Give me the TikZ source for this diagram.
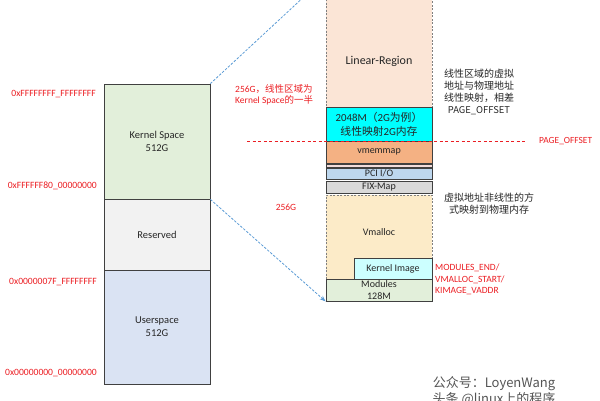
\documentclass[tikz,border=0pt]{standalone}
\usepackage{fontspec}
\setmainfont{Carlito}
\newfontfamily\cjk{Noto Sans CJK SC}
\usetikzlibrary{arrows.meta}
\definecolor{ksgreen}{HTML}{E2EFDA}
\definecolor{resgray}{HTML}{F2F2F2}
\definecolor{usblue}{HTML}{DAE3F3}
\definecolor{linpeach}{HTML}{FBE5D6}
\definecolor{cyanbox}{HTML}{00FFFF}
\definecolor{vmemor}{HTML}{F4B183}
\definecolor{pciblue}{HTML}{BDD7EE}
\definecolor{fixgray}{HTML}{D9D9D9}
\definecolor{vmyel}{HTML}{FCEBC8}
\definecolor{kimgcy}{HTML}{CCFFFF}
\definecolor{modgreen}{HTML}{E2EFDA}
\definecolor{thinpink}{HTML}{F2DCDB}
\definecolor{redtxt}{RGB}{235,30,35}
\definecolor{linkblue}{HTML}{5B9BD5}
\definecolor{wmgray}{HTML}{555555}
\tikzset{
  box/.style={draw=black!75, line width=0.8pt, inner sep=0pt, minimum width=106pt},
  dbox/.style={draw=gray, dashed, dash pattern=on 2pt off 1.5pt, line width=0.7pt, inner sep=0pt, minimum width=106pt},
  lab/.style={font=\fontsize{10.5}{13}\selectfont, align=center, text=black!85},
  slab/.style={font=\fontsize{10}{12}\selectfont, align=center, text=black!85},
  addr/.style={font=\fontsize{9.6}{10}\selectfont, text=redtxt, anchor=east, inner sep=0pt},
  rnote/.style={font=\fontsize{9.5}{11.5}\selectfont, text=redtxt, align=left, inner sep=0pt},
  bnote/.style={font=\cjk\fontsize{10}{12}\selectfont, text=black!85, align=center, inner sep=0pt},
  bluedash/.style={draw=linkblue, line width=0.8pt, dash pattern=on 2.5pt off 1.5pt},
  reddash/.style={draw=redtxt, line width=0.8pt, dash pattern=on 3pt off 2.5pt}
}
\begin{document}
\begin{tikzpicture}[x=1pt,y=-1pt]
\useasboundingbox (0,0) rectangle (600,400);
% left column
\node[box, fill=ksgreen, minimum height=115pt, lab] (ks) at (157,141.5) {Kernel Space\\512G};
\node[box, fill=resgray, minimum height=71pt, lab] (rs) at (157,234.5) {Reserved};
\node[box, fill=usblue, minimum height=114pt, lab] (us) at (157,327) {Userspace\\512G};
% addresses
\node[addr] (a1) at (96,94) {0xFFFFFFFF\_FFFFFFFF};
\node[addr] (a2) at (97,186) {0xFFFFFF80\_00000000};
\node[addr] (a3) at (97,282) {0x0000007F\_FFFFFFFF};
\node[addr] (a4) at (97,373) {0x00000000\_00000000};
% right column
\node[dbox, fill=linpeach, minimum height=130pt] (lin) at (379,42) {};
\node[lab, font=\fontsize{12}{14}\selectfont] (lint) at (379,61) {Linear-Region};
\node[box, fill=cyanbox, minimum height=34pt, slab, font=\fontsize{10.8}{14}\selectfont] (cy) at (379,124) {2048M{\cjk （}2G{\cjk 为例）}\\{\cjk 线性映射}2G{\cjk 内存}};
\node[box, fill=vmemor, minimum height=22pt, slab] (vm) at (379,152) {vmemmap};
\node[box, fill=thinpink, minimum height=3pt, line width=0.6pt] (thin) at (379,165.5) {};
\node[box, fill=pciblue, minimum height=11pt, slab, line width=0.6pt] (pci) at (379,173.5) {PCI I/O};
\node[box, fill=fixgray, minimum height=12pt, slab, line width=0.6pt] (fix) at (379,187) {FIX-Map};
\node[dbox, fill=vmyel, minimum height=84pt] (vmal) at (379,237) {};
\node[slab] (vmalt) at (379,232) {Vmalloc};
\node[box, fill=kimgcy, minimum width=78pt, minimum height=21pt, slab] (kimg) at (393,268.5) {Kernel Image};
\node[box, fill=modgreen, minimum height=22pt, slab, font=\fontsize{10}{12}\selectfont] (mod) at (379,290) {Modules\\128M};
% connectors
\draw[bluedash] (ks.north east) -- (lin.north west);
\draw[bluedash, -{Stealth[length=6pt,width=4.5pt]}] (ks.south east) -- (mod.south west);
\coordinate (poL) at (247,141);
\coordinate (poR) at (527,141);
\draw[reddash] (poL) -- (poR);
% notes
\node[rnote, anchor=west] (n256a) at (235,95) {256G{\cjk ，线性区域为}\\Kernel Space{\cjk 的一半}};
\node[rnote, anchor=center] (n256b) at (286,207) {256G};
\node[rnote, anchor=west, font=\fontsize{9.4}{11}\selectfont] (po) at (539,141) {PAGE\_OFFSET};
\node[bnote] (linnote) at (479,92) {线性区域的虚拟\\地址与物理地址\\线性映射，相差\\\fontsize{9.4}{12}\selectfont PAGE\_OFFSET};
\node[bnote] (vmnote) at (489,203.5) {虚拟地址非线性的方\\式映射到物理内存};
\node[rnote, anchor=west] (modnote) at (435,279.5) {MODULES\_END/\\VMALLOC\_START/\\KIMAGE\_VADDR};
% watermark
\node[font=\cjk\fontsize{13}{14}\selectfont, text=wmgray, inner sep=0pt] (wm1) at (494,384) {公众号：LoyenWang};
\node[font=\cjk\fontsize{13}{14}\selectfont, text=wmgray, inner sep=0pt] (wm2) at (494,399) {头条 @linux上的程序};
\end{tikzpicture}
\end{document}
